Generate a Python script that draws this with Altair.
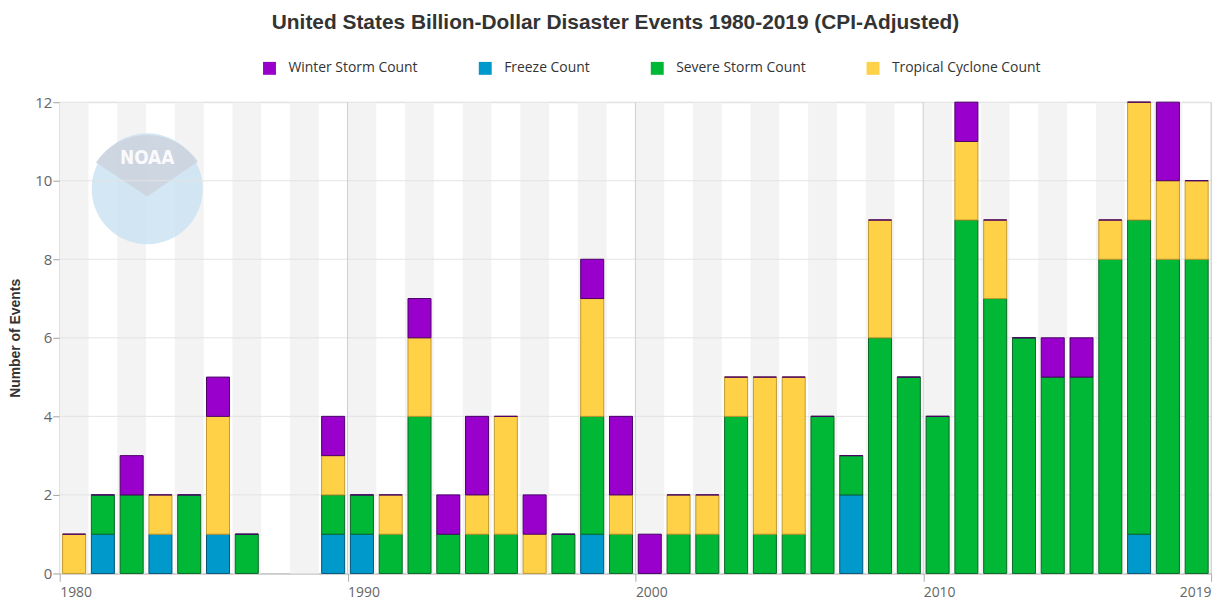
import altair as alt
import pandas as pd

# ---- data ----
years = list(range(1980, 2020))
series = ["Winter Storm Count", "Freeze Count", "Severe Storm Count", "Tropical Cyclone Count"]
freeze = [0, 1, 0, 1, 0, 1, 0, 0, 0, 1,
          1, 0, 0, 0, 0, 0, 0, 0, 1, 0,
          0, 0, 0, 0, 0, 0, 0, 2, 0, 0,
          0, 0, 0, 0, 0, 0, 0, 1, 0, 0]
severe = [0, 1, 2, 0, 2, 0, 1, 0, 0, 1,
          1, 1, 4, 1, 1, 1, 0, 1, 3, 1,
          0, 1, 1, 4, 1, 1, 4, 1, 6, 5,
          4, 9, 7, 6, 5, 5, 8, 8, 8, 8]
tropical = [1, 0, 0, 1, 0, 3, 0, 0, 0, 1,
            0, 1, 2, 0, 1, 3, 1, 0, 3, 1,
            0, 1, 1, 1, 4, 4, 0, 0, 3, 0,
            0, 2, 2, 0, 0, 0, 1, 3, 2, 2]
winter = [0, 0, 1, 0, 0, 1, 0, 0, 0, 1,
          0, 0, 1, 1, 2, 0, 1, 0, 1, 2,
          1, 0, 0, 0, 0, 0, 0, 0, 0, 0,
          0, 1, 0, 0, 1, 1, 0, 0, 2, 0]
stack_rank = {"Freeze Count": 0, "Severe Storm Count": 1,
              "Tropical Cyclone Count": 2, "Winter Storm Count": 3}
y_ticks = [0, 2, 4, 6, 8, 10, 12]
x_ticks = [1980, 1990, 2000, 2010, 2020]

# ---- styles ----
fills = ["#9900cc", "#0099cc", "#00b836", "#ffd147"]
strokes = ["#4a0066", "#00577a", "#0a6626", "#c29a2e"]
FONT = "Open Sans"
W, H = 1158, 474

rows = []
for name, vals in [("Winter Storm Count", winter), ("Freeze Count", freeze),
                   ("Severe Storm Count", severe), ("Tropical Cyclone Count", tropical)]:
    for yr, v in zip(years, vals):
        rows.append({"year": yr, "series": name, "count": v, "rank": stack_rank[name]})
df = pd.DataFrame(rows)

band_df = pd.DataFrame({"year": [y for y in years if y % 2 == 0]})
hgrid_df = pd.DataFrame({"v": y_ticks[1:]})
vgrid_df = pd.DataFrame({"v": x_ticks[1:]})

xscale = alt.Scale(domain=[1980, 2020], nice=False, zero=False)
yscale = alt.Scale(domain=[0, 12], nice=False)

xaxis = alt.Axis(
    values=x_ticks, title=None, grid=False,
    labelExpr="datum.value == 2020 ? '2019' : '' + datum.value",
    labelAlign={"condition": {"test": "datum.value == 2020", "value": "right"}, "value": "left"},
    labelFlush=False, labelOverlap=False, labelBaseline="top",
    labelFont=FONT, labelFontSize=14, labelColor="#666666", labelPadding=4,
    domainColor="#b0b0b0", tickColor="#b0b0b0", tickSize=8,
)
yaxis = alt.Axis(
    values=y_ticks, title="Number of Events", grid=False,
    labelFont=FONT, labelFontSize=15, labelColor="#666666", labelPadding=1,
    domainColor="#a0a0a0", tickColor="#a0a0a0", tickSize=7,
    titleFont="Liberation Sans", titleFontSize=14, titleFontWeight="bold",
    titleColor="#333333", titlePadding=12,
)

bands = alt.Chart(band_df).transform_calculate(end="datum.year + 1").mark_rect(
    color="#f3f3f3").encode(
    x=alt.X("year:Q", scale=xscale, axis=xaxis),
    x2="end:Q",
    y=alt.datum(0, scale=yscale, axis=yaxis),
    y2=alt.datum(12),
)

logo_circle = alt.Chart(band_df).transform_filter("datum.year == 1980").mark_point(
    shape="circle", filled=True, color="#c9e1f1", opacity=0.8, size=12470).encode(
    x=alt.value(88), y=alt.value(87))
logo_top = alt.Chart(band_df).transform_filter("datum.year == 1980").mark_arc(
    color="#cdd2de", opacity=0.85, radius=62, theta=5.3, theta2=7.25).encode(
    x=alt.value(88), y=alt.value(95))
logo_text = alt.Chart(band_df).transform_filter("datum.year == 1980").mark_text(
    text="NOAA", color="white", font="DejaVu Sans Condensed", fontWeight="bold",
    fontSize=19, opacity=0.9).encode(x=alt.value(88), y=alt.value(56))

hgrid = alt.Chart(hgrid_df).mark_rule(color="#e3e3e3", strokeWidth=1).encode(
    y=alt.Y("v:Q", scale=yscale, axis=yaxis))
vgrid = alt.Chart(vgrid_df).mark_rule(color="#cfcfcf", strokeWidth=1).encode(
    x=alt.X("v:Q", scale=xscale, axis=xaxis))

bars = alt.Chart(df).transform_joinaggregate(
    total="sum(count)", groupby=["year"]
).transform_filter(
    "datum.count > 0 || (datum.rank == 3 && datum.total > 0)"
).transform_stack(
    stack="count", groupby=["year"], as_=["y0", "y1"],
    sort=[alt.SortField("rank", order="ascending")],
).transform_calculate(
    x0="datum.year + 0.1", x1="datum.year + 0.9").mark_rect(strokeWidth=1).encode(
    x=alt.X("x0:Q", scale=xscale, axis=xaxis),
    x2="x1:Q",
    y=alt.Y("y0:Q", scale=yscale, axis=yaxis),
    y2="y1:Q",
    color=alt.Color("series:N", scale=alt.Scale(domain=series, range=fills),
                    legend=alt.Legend(orient="none", legendX=204, legendY=-41,
                                      direction="horizontal", columns=4, title=None,
                                      symbolType="square", symbolSize=169,
                                      symbolStrokeWidth=0, labelFont=FONT,
                                      labelFontSize=14, labelColor="#333333",
                                      labelOffset=12, columnPadding=60, padding=0)),
    stroke=alt.Stroke("series:N", scale=alt.Scale(domain=series, range=strokes), legend=None),
    order=alt.Order("rank:Q"),
)

chart = alt.layer(bands, logo_circle, logo_top, logo_text, hgrid, vgrid, bars).properties(
    width=W, height=H,
    title=alt.TitleParams(
        "United States Billion-Dollar Disaster Events 1980-2019 (CPI-Adjusted)",
        font="Liberation Sans", fontSize=21, fontWeight="bold", color="#333333",
        anchor="middle", offset=29, dx=-20),
    autosize=alt.AutoSizeParams(type="none"),
    padding={"left": 52, "top": 93, "right": 10, "bottom": 26},
).configure_view(stroke=None).configure(background="white")

chart.save("out.html", embed_options={"renderer": "svg", "actions": False})
